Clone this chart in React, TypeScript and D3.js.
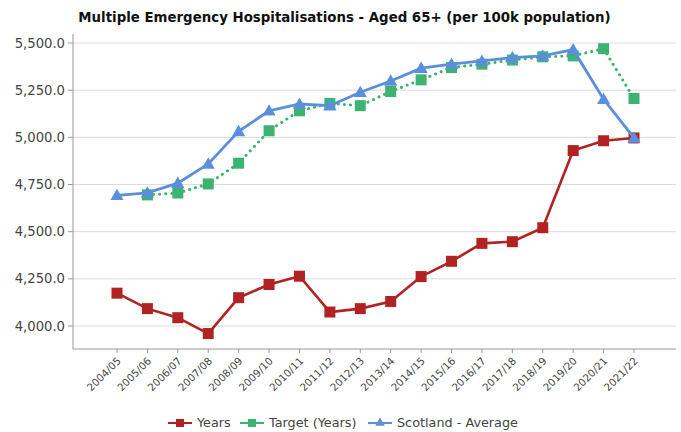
import React from "react";
import * as d3 from "d3";

const categories = ["2004/05","2005/06","2006/07","2007/08","2008/09","2009/10","2010/11","2011/12","2012/13","2013/14","2014/15","2015/16","2016/17","2017/18","2018/19","2019/20","2020/21","2021/22"];
const years = [4174,4092,4044,3960,4150,4220,4264,4074,4092,4130,4262,4343,4438,4447,4521,4930,4982,4997];
const target: (number | null)[] = [null,4695,4705,4753,4863,5035,5141,5180,5168,5243,5305,5370,5388,5410,5427,5432,5470,5206];
const scotland = [4693,4706,4757,4859,5032,5141,5177,5168,5239,5299,5367,5388,5405,5423,5432,5465,5202,4997];
const yTicks = [4000,4250,4500,4750,5000,5250,5500];
const title = "Multiple Emergency Hospitalisations - Aged 65+ (per 100k population)";
const legendItems = [
  { label: "Years", color: "#b22222", shape: "square" },
  { label: "Target (Years)", color: "#3cb371", shape: "square" },
  { label: "Scotland - Average", color: "#5b8fdb", shape: "triangle" },
];

const W = 681, H = 432;
const left = 73, right = 676, top = 34, bottom = 349;
const FONT = "'DejaVu Sans', Verdana, sans-serif";

export default function App() {
  const x = d3.scalePoint<string>().domain(categories).range([117, 634]);
  const y = d3.scaleLinear().domain([3878, 5548]).range([bottom, top]);
  const fmt = d3.format(",.1f");

  const line = d3.line<[string, number | null]>()
    .defined((d) => d[1] != null)
    .x((d) => x(d[0])!)
    .y((d) => y(d[1] as number));

  const zip = (vals: (number | null)[]) => categories.map((c, i) => [c, vals[i]] as [string, number | null]);
  const tri = d3.symbol().type(d3.symbolTriangle).size(75)()!;

  const legendX = [168, 240, 368];

  return (
    <svg width={W} height={H} style={{ position: "absolute", left: 0, top: 0, fontFamily: FONT }}>
      <rect x={0} y={0} width={W} height={H} fill="#fff" />
      <text x={344.5} y={22} textAnchor="middle" fontSize={13.35} fontWeight="bold" fill="#111">{title}</text>
      {yTicks.map((t) => (
        <g key={t}>
          <line x1={left} x2={right} y1={y(t)} y2={y(t)} stroke="#dcdcdc" strokeWidth={1} />
          <line x1={left - 5} x2={left} y1={y(t)} y2={y(t)} stroke="#999" />
          <text x={left - 8} y={y(t)} dy="0.35em" textAnchor="end" fontSize={13.2} fill="#444">{fmt(t)}</text>
        </g>
      ))}
      <line x1={left} x2={left} y1={top} y2={bottom} stroke="#999" />
      <line x1={left} x2={right} y1={bottom} y2={bottom} stroke="#999" />
      {categories.map((c) => (
        <g key={c}>
          <line x1={x(c)} x2={x(c)} y1={bottom} y2={bottom + 4} stroke="#999" />
          <text transform={`translate(${x(c)! + 2},${bottom + 10}) rotate(-45)`} textAnchor="end" dy="0.35em" fontSize={10.3} fill="#444">{c}</text>
        </g>
      ))}
      <path d={line(zip(target))!} fill="none" stroke="#3cb371" strokeWidth={3} strokeDasharray="0.1 6" strokeLinecap="round" />
      {target.map((v, i) => v == null ? null : (
        <rect key={i} x={x(categories[i])! - 5.5} y={y(v) - 5.5} width={11} height={11} fill="#3cb371" />
      ))}
      <path d={line(zip(years))!} fill="none" stroke="#b22222" strokeWidth={2.6} />
      {years.map((v, i) => (
        <rect key={i} x={x(categories[i])! - 5.5} y={y(v) - 5.5} width={11} height={11} fill="#b22222" />
      ))}
      <path d={line(zip(scotland))!} fill="none" stroke="#5b8fdb" strokeWidth={2.8} />
      {scotland.map((v, i) => (
        <path key={i} d={tri} transform={`translate(${x(categories[i])},${y(v) + 1})`} fill="#5b8fdb" />
      ))}
      {legendItems.map((it, i) => (
        <g key={it.label} transform={`translate(${legendX[i]},423)`}>
          <line x1={0} x2={24} y1={0} y2={0} stroke={it.color} strokeWidth={2} />
          {it.shape === "square" ? (
            <rect x={8} y={-4} width={8} height={8} fill={it.color} />
          ) : (
            <path d={d3.symbol().type(d3.symbolTriangle).size(40)()!} transform="translate(12,0)" fill={it.color} />
          )}
          <text x={29} y={0} dy="0.35em" fontSize={12.8} fill="#444">{it.label}</text>
        </g>
      ))}
    </svg>
  );
}
